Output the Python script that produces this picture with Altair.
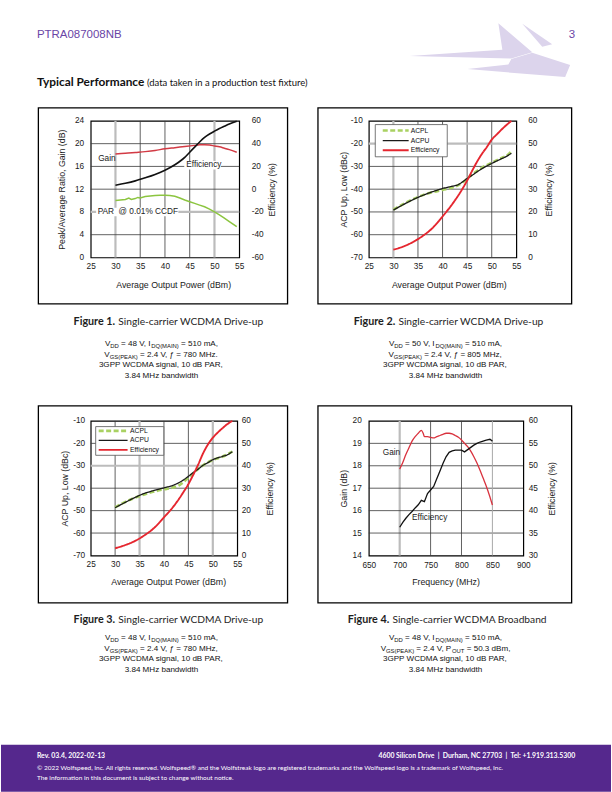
import altair as alt
import pandas as pd

# ================= values =================
X_TICKS_DRIVE = [25, 30, 35, 40, 45, 50, 55]

# Figure 1
F1_X_GAIN = [30, 32, 34, 36, 38, 40, 42, 44, 46, 47, 48, 49, 50, 51, 52, 53, 54.5]
F1_GAIN = [18.2, 18.3, 18.45, 18.6, 18.8, 19.1, 19.3, 19.5, 19.7, 19.8, 19.8, 19.75, 19.6, 19.45, 19.2, 18.95, 18.5]
F1_X_EFF = [30, 32, 34, 36, 38, 40, 42, 44, 45, 46, 47, 48, 49, 50, 51, 52, 53, 54.5]
F1_EFF = [3.5, 5.2, 7.3, 10, 13, 16.7, 21.5, 28, 32.5, 37, 41.5, 45.5, 48.5, 51, 53.3, 55.3, 57.3, 59.8]
F1_X_PAR = [30, 31, 32, 32.7, 33.2, 34, 34.5, 35, 36, 37, 38, 39, 40, 41, 42, 43, 44, 45, 46, 47, 48, 49, 50, 51, 52, 53, 54.5]
F1_PAR = [10.0, 10.1, 10.2, 10.45, 10.2, 10.35, 10.55, 10.45, 10.7, 10.8, 10.9, 10.95, 10.95, 10.9, 10.75, 10.45, 10.1,
          9.8, 9.5, 9.2, 8.9, 8.5, 8.0, 7.5, 6.9, 6.3, 5.4]
F1_YL_TICKS = [0, 4, 8, 12, 16, 20, 24]
F1_YR_TICKS = [-60, -40, -20, 0, 20, 40, 60]
F1_LABELS = ["Gain", "Efficiency", "PAR\u00a0 @ 0.01% CCDF"]

# Figure 2
F2_X_ACPU = [30, 32, 34, 36, 38, 40, 42, 43, 44, 45, 46, 47, 48, 50, 52, 53, 54]
F2_ACPU = [-49.2, -46.8, -44.6, -42.7, -41.1, -39.7, -38.7, -38.2, -36.9, -35.3, -33.9, -32.4, -31.0, -28.7, -26.6, -25.6, -24.2]
F2_X_ACPL = [30, 32, 34, 36, 38, 40, 42, 44, 45, 46, 48, 50, 52, 53, 54]
F2_ACPL = [-49.0, -46.6, -44.4, -42.6, -41.3, -40.3, -39.3, -37.2, -35.4, -33.6, -30.6, -28.4, -26.3, -25.3, -23.4]
F2_X_EFF = [30, 32, 34, 36, 38, 40, 42, 44, 45, 46, 47, 48, 49, 50, 51, 52, 53, 54]
F2_EFF = [3.4, 4.8, 6.8, 9.5, 13, 18, 23.5, 30, 33.8, 38, 42, 45.5, 48.5, 51.8, 54, 56.2, 58.2, 60]

# Figure 3
F3_X_ACPU = [30, 32, 34, 36, 38, 40, 42, 43, 44, 45, 46, 47, 48, 49, 50, 52, 53, 54]
F3_ACPU = [-48.7, -46.4, -44.2, -42.3, -41.0, -39.8, -38.6, -37.6, -36.3, -34.7, -33.0, -31.5, -29.8, -28.6, -27.3, -25.8, -25.1, -23.7]
F3_X_ACPL = [30, 32, 34, 36, 38, 40, 42, 43, 44, 45, 46, 47, 48, 50, 52, 54]
F3_ACPL = [-48.5, -46.2, -44.3, -42.8, -41.5, -40.5, -39.6, -38.9, -37.2, -35.3, -33.3, -31.4, -29.8, -27.4, -25.9, -23.7]
F3_X_EFF = [30, 32, 34, 36, 38, 40, 42, 43, 44, 45, 46, 47, 48, 49, 50, 51, 52, 53, 54]
F3_EFF = [3.2, 4.6, 6.4, 9, 12.3, 17, 22, 25, 28.3, 31.8, 36, 40.5, 45.5, 49.5, 52.5, 54.8, 56.8, 58.6, 60]

ACP_YL_TICKS = [-70, -60, -50, -40, -30, -20, -10]
ACP_YR_TICKS = [0, 10, 20, 30, 40, 50, 60]
SERIES = ["ACPL", "ACPU", "Efficiency"]

# Figure 4
F4_X_TICKS = [650, 700, 750, 800, 850, 900]
F4_X_GAIN = [700, 705, 710, 715, 720, 725, 730, 735, 738, 740, 745, 750, 755, 760, 765, 770, 775, 780, 785, 790,
             795, 800, 805, 810, 815, 820, 825, 830, 835, 840, 845, 850]
F4_GAIN = [17.85, 18.15, 18.5, 18.8, 19.1, 19.3, 19.45, 19.58, 19.45, 19.3, 19.3, 19.27, 19.24, 19.3, 19.35, 19.4,
           19.45, 19.45, 19.42, 19.35, 19.27, 19.15, 19.0, 18.85, 18.65, 18.4, 18.12, 17.8, 17.45, 17.1, 16.7, 16.25]
F4_X_EFF = [700, 705, 710, 715, 720, 725, 730, 735, 740, 745, 750, 755, 760, 765, 770, 775, 780, 785, 790, 795,
            800, 805, 810, 815, 820, 825, 830, 835, 840, 846, 850]
F4_EFF = [36.3, 37.4, 38.3, 39.1, 39.8, 40.6, 41.3, 42.3, 42.0, 43.8, 44.6, 45.4, 47.1, 48.8, 50.5, 52.0, 53.0, 53.3,
          53.5, 53.5, 53.5, 53.1, 53.6, 54.1, 54.6, 55.0, 55.3, 55.5, 55.7, 55.9, 55.5]
F4_YL_TICKS = [14, 15, 16, 17, 18, 19, 20]
F4_YR_TICKS = [30, 35, 40, 45, 50, 55, 60]
F4_LABELS = ["Gain", "Efficiency"]

# text of the page
HEADER_LEFT = "PTRA087008NB"
HEADER_RIGHT = "3"
SECTION_BOLD = "Typical Performance"
SECTION_REG = "(data taken in a production test fixture)"
FIG_BOLD = {1: "Figure 1.", 2: "Figure 2.", 3: "Figure 3.", 4: "Figure 4."}
FIG_TEXT = {1: "Single-carrier WCDMA Drive-up", 2: "Single-carrier WCDMA Drive-up",
            3: "Single-carrier WCDMA Drive-up", 4: "Single-carrier WCDMA Broadband"}
COND = {
    1: [[("V", 0), ("DD", 1), (" = 48 V, I", 0), ("DQ(MAIN)", 1), (" = 510 mA,", 0)],
        [("V", 0), ("GS(PEAK)", 1), (" = 2.4 V, \u0192 = 780 MHz.", 0)],
        [("3GPP WCDMA signal, 10 dB PAR,", 0)],
        [("3.84 MHz bandwidth", 0)]],
    2: [[("V", 0), ("DD", 1), (" = 50 V, I", 0), ("DQ(MAIN)", 1), (" = 510 mA,", 0)],
        [("V", 0), ("GS(PEAK)", 1), (" = 2.4 V, \u0192 = 805 MHz,", 0)],
        [("3GPP WCDMA signal, 10 dB PAR,", 0)],
        [("3.84 MHz bandwidth", 0)]],
    3: [[("V", 0), ("DD", 1), (" = 48 V, I", 0), ("DQ(MAIN)", 1), (" = 510 mA,", 0)],
        [("V", 0), ("GS(PEAK)", 1), (" = 2.4 V, \u0192 = 780 MHz,", 0)],
        [("3GPP WCDMA signal, 10 dB PAR,", 0)],
        [("3.84 MHz bandwidth", 0)]],
    4: [[("V", 0), ("DD", 1), (" = 48 V, I", 0), ("DQ(MAIN)", 1), (" = 510 mA,", 0)],
        [("V", 0), ("GS(PEAK)", 1), (" = 2.4 V, P", 0), ("OUT", 1), (" = 50.3 dBm,", 0)],
        [("3GPP WCDMA signal, 10 dB PAR,", 0)],
        [("3.84 MHz bandwidth", 0)]],
}
FOOT_LEFT = "Rev. 03.4, 2022-02-13"
FOOT_RIGHT = "4600 Silicon Drive\u00a0 |\u00a0 Durham, NC 27703\u00a0 |\u00a0 Tel: +1.919.313.5300"
FOOT_LINES = ["\u00a9 2022 Wolfspeed, Inc. All rights reserved. Wolfspeed\u00ae and the Wolfstreak logo are registered "
              "trademarks and the Wolfspeed logo is a trademark of Wolfspeed, Inc.",
              "The information in this document is subject to change without notice."]

# ================= layout and style =================
SANS = "Liberation Sans"
HUM = "Lato"
PURPLE = "#55288d"
LOGO = "#dcd4ec"
GRID_DARK = "#3a3a3a"
GRID_LIGHT = "#bcbcbc"
LBL = "'' + datum.value"

ORIGIN = {1: (90, 119), 2: (369, 119), 3: (90, 420), 4: (369, 420)}
PLOT = {1: (149, 137), 2: (148, 137), 3: (147, 135), 4: (155, 135)}
FRAME = {1: (37.5, 106, 287.5, 302.5), 2: (318, 106, 572.5, 302.5),
         3: (37.5, 405, 287.5, 602.5), 4: (318, 405, 572.5, 602.5)}
# axis title centres, relative to the plot edges: left, right, bottom-x, bottom-y
TITLE_POS = {1: (-29, 32, 82.7, 26.7), 2: (-25.3, 32.3, 80.3, 27.3),
             3: (-26.3, 32.3, 77.7, 26), 4: (-25.3, 28, 77, 26.3)}
FIG_SPLIT = {1: 114.5, 2: 395.5, 3: 114.5, 4: 389.5}
FIG_BASE = {1: 323.5, 2: 323.5, 3: 623, 4: 623}
COND_CX = {1: 161, 2: 446, 3: 161, 4: 446}
COND_BASE = {1: [345, 355.5, 366, 376.5], 2: [345, 355.5, 366, 376.5],
             3: [640, 650.5, 661, 671.5], 4: [640, 650.5, 661, 671.5]}
COND_FS, SUB_FS, SUB_DY = 8.1, 5.9, 2.0

F1_LABEL_POS = [(26.5, 17.35), (44.3, 16.2), (26.4, 8.0)]
F1_LABEL_BG = [(43.9, 51.3, 15.45, 16.95), (26.1, 42.7, 7.25, 8.75)]
F4_LABEL_POS = [(672.6, 18.57), (720, 15.68)]

LEG = {2: dict(box=(375.5, 122.7, 447.7, 155), rows=[128.7, 138.7, 148.5], lx=(383, 409), tx=411, fs=6.8),
       3: dict(box=(95, 425.7, 163.3, 454.5), rows=[430, 439.5, 449], lx=(98, 127), tx=129.5, fs=6.8)}

# header logo outline (page pixels): three light shapes
LOGO_SHAPES = [
    [(410, 54), (503, 47.5), (499, 21), (533, 50), (512, 56.5)],
    [(523, 21.5), (553, 42), (543, 44.5)],
    [(512, 57), (533, 50.5), (571, 63), (566, 75), (468, 67), (509, 62.5)],
]

AFM = {' ': 278, ',': 278, '.': 278, '=': 584, '(': 333, ')': 333, '-': 333, '\u0192': 556}
AFM.update({c: 556 for c in "0123456789"})
AFM.update(dict(A=667, B=667, C=722, D=722, E=667, F=611, G=778, H=722, I=278, J=500, K=667, L=556, M=833,
                N=722, O=778, P=667, Q=778, R=722, S=667, T=611, U=722, V=667, W=944, X=667, Y=667, Z=611))
AFM.update(dict(a=556, b=556, c=500, d=556, e=556, f=278, g=556, h=556, i=222, j=222, k=500, l=222, m=833,
                n=556, o=556, p=556, q=556, r=333, s=500, t=278, u=556, v=500, w=722, x=500, y=500, z=500))


def tw(s, fs):
    return sum(AFM.get(c, 556) for c in s) * fs / 1000.0


def rel(k, x, y):
    ox, oy = ORIGIN[k]
    return x - ox, y - oy


def pix_text(rows, **kw):
    return alt.Chart(pd.DataFrame(rows)).mark_text(**kw).encode(
        x=alt.X("px:Q", scale=None, axis=None),
        y=alt.Y("py:Q", scale=None, axis=None),
        text="t:N")


def pix_rect(rows, **kw):
    return alt.Chart(pd.DataFrame(rows)).mark_rect(**kw).encode(
        x=alt.X("x1:Q", scale=None, axis=None), x2=alt.X2("x2"),
        y=alt.Y("y1:Q", scale=None, axis=None), y2=alt.Y2("y2"))


def frame_layer(k):
    x1, y1, x2, y2 = FRAME[k]
    a, b = rel(k, x1, y1)
    c, d = rel(k, x2, y2)
    return pix_rect([dict(x1=a, x2=c, y1=b, y2=d)], filled=False, stroke="black", strokeWidth=1.3)


def caption_layers(k):
    sx, by = rel(k, FIG_SPLIT[k], FIG_BASE[k])
    bold = pix_text([dict(px=sx, py=by, t=FIG_BOLD[k])], align="right", baseline="alphabetic",
                    font=HUM, fontWeight="bold", fontSize=10.8, color="#1e1e1e")
    reg = pix_text([dict(px=sx + 3.2, py=by, t=FIG_TEXT[k])], align="left", baseline="alphabetic",
                   font=HUM, fontSize=10.25, color="#1e1e1e")
    rows = []
    for li, line in enumerate(COND[k]):
        sizes = [SUB_FS if sub else COND_FS for _, sub in line]
        total = sum(tw(s, f) for (s, _), f in zip(line, sizes))
        cur = COND_CX[k] - total / 2.0
        for (s, sub), f in zip(line, sizes):
            lead = len(s) - len(s.lstrip(" "))
            px, py = rel(k, cur + lead * 0.278 * f, COND_BASE[k][li] + (SUB_DY if sub else 0))
            rows.append(dict(px=px, py=py, t=s.strip(), fs=f))
            cur += tw(s, f)
    cond = alt.Chart(pd.DataFrame(rows)).mark_text(align="left", baseline="alphabetic", font=SANS,
                                                   color="#111").encode(
        x=alt.X("px:Q", scale=None, axis=None),
        y=alt.Y("py:Q", scale=None, axis=None),
        size=alt.Size("fs:Q", scale=None, legend=None),
        text="t:N")
    return [bold, reg, cond]


def grid_layers(xvals_dark, xvals_light, yvals_dark, yvals_light, xs, xa, ys, ya, light_w=2.2):
    out = []
    for vals, col, w in [(xvals_dark, GRID_DARK, 0.8), (xvals_light, GRID_LIGHT, light_w)]:
        if vals:
            out.append(alt.Chart(pd.DataFrame({"v": vals})).mark_rule(color=col, strokeWidth=w).encode(
                x=alt.X("v:Q", scale=xs, axis=xa)))
    for vals, col, w in [(yvals_dark, GRID_DARK, 0.8), (yvals_light, GRID_LIGHT, 2.2)]:
        if vals:
            out.append(alt.Chart(pd.DataFrame({"v": vals})).mark_rule(color=col, strokeWidth=w).encode(
                y=alt.Y("v:Q", scale=ys, axis=ya)))
    return out


def line(xv, yv, xs, xa, ys, ya, color, width, interp="monotone"):
    return alt.Chart(pd.DataFrame({"x": xv, "y": yv})).mark_line(
        color=color, strokeWidth=width, interpolate=interp).encode(
        x=alt.X("x:Q", scale=xs, axis=xa), y=alt.Y("y:Q", scale=ys, axis=ya))


def left_axis(k, values, title, lp):
    return alt.Axis(values=values, title=title, labelPadding=lp, labelExpr=LBL,
                    titleX=TITLE_POS[k][0], titleY=PLOT[k][1] / 2, titleAngle=270,
                    titleAlign="center", titleBaseline="middle")


def right_axis(k, values, title, lp):
    return alt.Axis(orient="right", values=values, title=title, labelPadding=lp, labelExpr=LBL,
                    titleX=TITLE_POS[k][1], titleY=PLOT[k][1] / 2, titleAngle=270,
                    titleAlign="center", titleBaseline="middle")


def bottom_axis(k, values, title, lp):
    return alt.Axis(values=values, title=title, labelPadding=lp, labelExpr=LBL,
                    titleX=TITLE_POS[k][2], titleY=TITLE_POS[k][3], titleAngle=0,
                    titleAlign="center", titleBaseline="middle")


def drive_x(k):
    xs = alt.Scale(domain=[25, 55], nice=False, zero=False)
    return xs, bottom_axis(k, X_TICKS_DRIVE, "Average Output Power (dBm)", 4)


def logo_layer(k):
    rows = []
    for si, shape in enumerate(LOGO_SHAPES):
        for pi, (x, y) in enumerate(shape + [shape[0]]):
            px, py = rel(k, x, y)
            rows.append(dict(shape=si, o=pi, px=px, py=py))
    return alt.Chart(pd.DataFrame(rows)).mark_line(filled=True, color=LOGO, strokeWidth=0.5).encode(
        x=alt.X("px:Q", scale=None, axis=None), y=alt.Y("py:Q", scale=None, axis=None),
        detail="shape:N", order="o:Q")


# ---------------- Figure 1 ----------------
def chart1():
    k = 1
    xs, xa = drive_x(k)
    ys = alt.Scale(domain=[0, 24], nice=False, zero=False)
    ya = left_axis(k, F1_YL_TICKS, "Peak/Average Ratio, Gain (dB)", 7)
    yrs = alt.Scale(domain=[-60, 60], nice=False, zero=False)
    yra = right_axis(k, F1_YR_TICKS, "Efficiency (%)", 12)
    grids = grid_layers([35, 40, 45], [30, 50], [4, 12, 16, 20], [8], xs, xa, ys, ya)
    bg = alt.Chart(pd.DataFrame([dict(x=a, x2=b, y=c, y2=d) for a, b, c, d in F1_LABEL_BG])).mark_rect(
        color="white").encode(x=alt.X("x:Q", scale=xs, axis=xa), x2=alt.X2("x2"),
                              y=alt.Y("y:Q", scale=ys, axis=ya), y2=alt.Y2("y2"))
    gain = line(F1_X_GAIN, F1_GAIN, xs, xa, ys, ya, "#d23a44", 1.5)
    par = line(F1_X_PAR, F1_PAR, xs, xa, ys, ya, "#8cc540", 1.5, "linear")
    labels = alt.Chart(pd.DataFrame({"t": F1_LABELS, "x": [p[0] for p in F1_LABEL_POS],
                                     "y": [p[1] for p in F1_LABEL_POS]})).mark_text(
        align="left", baseline="middle", font=SANS, fontSize=8.3, color="#222").encode(
        x=alt.X("x:Q", scale=xs, axis=xa), y=alt.Y("y:Q", scale=ys, axis=ya), text="t:N")
    left = alt.layer(*grids, bg, gain, par, labels)
    eff = line(F1_X_EFF, F1_EFF, xs, xa, yrs, yra, "#111111", 1.6)

    # page-level pieces carried by this panel
    a, b = rel(k, 0, 0)
    c, d = rel(k, 612, 792)
    page = pix_rect([dict(x1=a, x2=c, y1=b, y2=d)], color="white", opacity=0)
    hx, hy = rel(k, 36, 35.5)
    rx, _ = rel(k, 576, 35.5)
    head_l = pix_text([dict(px=hx, py=hy, t=HEADER_LEFT)], align="left", baseline="alphabetic",
                      font=SANS, fontSize=11.5, color="#6a45a6")
    head_r = pix_text([dict(px=rx, py=hy, t=HEADER_RIGHT)], align="right", baseline="alphabetic",
                      font=SANS, fontSize=11.5, color="#6a45a6")
    sx, sy = rel(k, 36, 84)
    s2x, _ = rel(k, 146.5, 84)
    sec_b = pix_text([dict(px=sx, py=sy, t=SECTION_BOLD)], align="left", baseline="alphabetic",
                     font=HUM, fontWeight="bold", fontSize=11.9, color="#111")
    sec_r = pix_text([dict(px=s2x, py=sy, t=SECTION_REG)], align="left", baseline="alphabetic",
                     font=HUM, fontSize=9.5, color="#111")
    return alt.layer(page, logo_layer(k), frame_layer(k), left, eff, head_l, head_r, sec_b, sec_r,
                     *caption_layers(k)).resolve_scale(y="independent").properties(
        width=PLOT[k][0], height=PLOT[k][1])


# ---------------- Figures 2 and 3 ----------------
def acp_chart(k, xacpl, acpl, xacpu, acpu, xeff, eff, colors, widths, gx_dark, gx_light, gy_dark, gy_light,
              lpl, lpr):
    xs, xa = drive_x(k)
    ys = alt.Scale(domain=[-70, -10], nice=False, zero=False)
    ya = left_axis(k, ACP_YL_TICKS, "ACP Up, Low (dBc)", lpl)
    yrs = alt.Scale(domain=[0, 60], nice=False, zero=False)
    yra = right_axis(k, ACP_YR_TICKS, "Efficiency (%)", lpr)
    cs = alt.Scale(domain=SERIES, range=colors)
    ds = alt.Scale(domain=SERIES, range=[[5, 2.5], [1, 0], [1, 0]])
    ws = alt.Scale(type="ordinal", domain=SERIES, range=widths)

    def enc(chart, ysc, yax):
        return chart.encode(
            x=alt.X("x:Q", scale=xs, axis=xa),
            y=alt.Y("y:Q", scale=ysc, axis=yax),
            color=alt.Color("s:N", scale=cs, legend=None),
            strokeDash=alt.StrokeDash("s:N", scale=ds, legend=None),
            strokeWidth=alt.StrokeWidth("s:N", scale=ws, legend=None))

    grids = grid_layers(gx_dark, gx_light, gy_dark, gy_light, xs, xa, ys, ya)
    acp_df = pd.concat([pd.DataFrame({"x": xacpl, "y": acpl, "s": "ACPL"}),
                        pd.DataFrame({"x": xacpu, "y": acpu, "s": "ACPU"})])
    acp = enc(alt.Chart(acp_df).mark_line(interpolate="monotone"), ys, ya)
    left = alt.layer(*grids, acp)
    eff_df = pd.DataFrame({"x": xeff, "y": eff, "s": "Efficiency"})
    effl = enc(alt.Chart(eff_df).mark_line(interpolate="monotone"), yrs, yra)

    L = LEG[k]
    bx1, by1 = rel(k, L["box"][0], L["box"][1])
    bx2, by2 = rel(k, L["box"][2], L["box"][3])
    box = pix_rect([dict(x1=bx1, x2=bx2, y1=by1, y2=by2)], fill="white", stroke="#555", strokeWidth=0.8)
    rows = []
    for s, yy in zip(SERIES, L["rows"]):
        a, b = rel(k, L["lx"][0], yy)
        c, _ = rel(k, L["lx"][1], yy)
        t, _ = rel(k, L["tx"], yy)
        rows.append(dict(s=s, px=a, px2=c, py=b, tx=t))
    ldf = pd.DataFrame(rows)
    leg_lines = alt.Chart(ldf).mark_rule().encode(
        x=alt.X("px:Q", scale=None, axis=None), x2=alt.X2("px2"), y=alt.Y("py:Q", scale=None, axis=None),
        color=alt.Color("s:N", scale=cs, legend=None),
        strokeDash=alt.StrokeDash("s:N", scale=ds, legend=None),
        strokeWidth=alt.StrokeWidth("s:N", scale=ws, legend=None))
    leg_text = alt.Chart(ldf).mark_text(align="left", baseline="middle", font=SANS, fontSize=L["fs"],
                                        color="#111").encode(
        x=alt.X("tx:Q", scale=None, axis=None), y=alt.Y("py:Q", scale=None, axis=None), text="s:N")
    return alt.layer(frame_layer(k), left, effl, box, leg_lines, leg_text,
                     *caption_layers(k)).resolve_scale(y="independent").properties(
        width=PLOT[k][0], height=PLOT[k][1])


def chart2():
    return acp_chart(2, F2_X_ACPL, F2_ACPL, F2_X_ACPU, F2_ACPU, F2_X_EFF, F2_EFF,
                     ["#a9d162", "#1a1a1a", "#e5262f"], [2.6, 1.3, 1.9],
                     [35, 40, 45, 50], [30], [-30, -40, -50, -60], [-20], 6.5, 11.5)


def chart3():
    k = 3
    base = acp_chart(3, F3_X_ACPL, F3_ACPL, F3_X_ACPU, F3_ACPU, F3_X_EFF, F3_EFF,
                     ["#8dc63f", "#111111", "#cc2b37"], [2.6, 1.2, 1.4],
                     [30, 40, 45], [35, 50], [-20, -40, -50, -60], [-30], 6, 4)
    a, b = rel(k, 0, 745)
    c, d = rel(k, 612, 792)
    band = pix_rect([dict(x1=a, x2=c, y1=b, y2=d)], color=PURPLE)
    lx, ly = rel(k, 36, 758.5)
    rx, _ = rel(k, 576, 758.5)
    f_l = pix_text([dict(px=lx, py=ly, t=FOOT_LEFT)], align="left", baseline="alphabetic", font=HUM,
                   fontWeight="bold", fontSize=6.9, color="white")
    f_r = pix_text([dict(px=rx, py=ly, t=FOOT_RIGHT)], align="right", baseline="alphabetic", font=HUM,
                   fontWeight="bold", fontSize=6.9, color="white")
    rows = []
    for t, yy in zip(FOOT_LINES, [770, 780]):
        px, py = rel(k, 36, yy)
        rows.append(dict(px=px, py=py, t=t))
    f_small = pix_text(rows, align="left", baseline="alphabetic", font=HUM, fontSize=6.5, color="white")
    return alt.layer(base, band, f_l, f_r, f_small).properties(width=PLOT[k][0], height=PLOT[k][1])


# ---------------- Figure 4 ----------------
def chart4():
    k = 4
    xs = alt.Scale(domain=[650, 900], nice=False, zero=False)
    xa = bottom_axis(k, F4_X_TICKS, "Frequency (MHz)", 5)
    ys = alt.Scale(domain=[14, 20], nice=False, zero=False)
    ya = left_axis(k, F4_YL_TICKS, "Gain (dB)", 7.5)
    yrs = alt.Scale(domain=[30, 60], nice=False, zero=False)
    yra = right_axis(k, F4_YR_TICKS, "Efficiency (%)", 5)
    grids = grid_layers([750, 800], [700], [15, 16, 17, 18, 19], [], xs, xa, ys, ya)
    grid850 = alt.Chart(pd.DataFrame({"v": [850]})).mark_rule(color="#a8a8a8", strokeWidth=1.0).encode(
        x=alt.X("v:Q", scale=xs, axis=xa))
    gain = line(F4_X_GAIN, F4_GAIN, xs, xa, ys, ya, "#d9323e", 1.3)
    labels = alt.Chart(pd.DataFrame({"t": F4_LABELS, "x": [p[0] for p in F4_LABEL_POS],
                                     "y": [p[1] for p in F4_LABEL_POS]})).mark_text(
        align="left", baseline="middle", font=SANS, fontSize=8.3, color="#222").encode(
        x=alt.X("x:Q", scale=xs, axis=xa), y=alt.Y("y:Q", scale=ys, axis=ya), text="t:N")
    left = alt.layer(*grids, grid850, gain, labels)
    eff = line(F4_X_EFF, F4_EFF, xs, xa, yrs, yra, "#111111", 1.3, "linear")
    return alt.layer(frame_layer(k), left, eff, *caption_layers(k)).resolve_scale(
        y="independent").properties(width=PLOT[k][0], height=PLOT[k][1])


chart = alt.concat(chart1(), chart2(), chart3(), chart4(), columns=2,
                   spacing={"row": 164, "column": 130}, bounds="flush", align="each").properties(
    padding=0, background="white").configure_view(stroke="black", strokeWidth=1.2).configure_axis(
    labelFont=SANS, labelFontSize=8.3, labelColor="#1a1a1a", titleFont=SANS, titleFontSize=8.8,
    titleFontWeight="normal", titleColor="#1a1a1a", ticks=False, domain=False, grid=False,
    labelFlush=False, labelOverlap=False)

chart.save("out.html", embed_options={"renderer": "svg", "actions": False})
